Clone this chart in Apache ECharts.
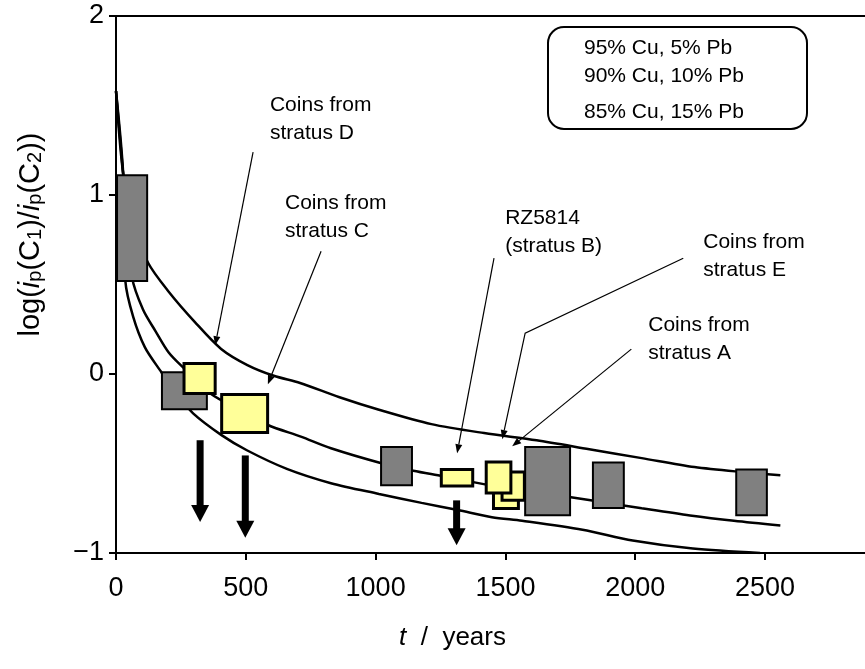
<!DOCTYPE html>
<html>
<head>
<meta charset="utf-8">
<script src="https://cdn.jsdelivr.net/npm/echarts@6/dist/echarts.min.js"></script>
<style>
  html, body { margin: 0; padding: 0; background: #fff; }
  #chart { width: 865px; height: 669px; }
</style>
</head>
<body>
<div id="chart"></div>
<script>
// Model curves: log ratio of peak currents vs. age for three Cu/Pb alloys
const curveNames = ['95% Cu, 5% Pb', '90% Cu, 10% Pb', '85% Cu, 15% Pb'];

const t95 = [0, 25, 61, 124, 203, 304, 405, 506, 608, 709, 861, 1013, 1215, 1418, 1620, 1823, 2025, 2228, 2430, 2559];
const y95 = [1.58, 1.15, 0.85, 0.62, 0.46, 0.29, 0.14, 0.05, -0.01, -0.05, -0.13, -0.20, -0.28, -0.33, -0.37, -0.42, -0.47, -0.52, -0.55, -0.566];

const t90 = [0, 28, 62, 104, 152, 203, 263, 365, 476, 585, 712, 828, 1026, 1145, 1258, 1436, 1645, 1847, 2025, 2211, 2380, 2559];
const y90 = [1.58, 1.11, 0.54, 0.36, 0.24, 0.12, 0.03, -0.11, -0.20, -0.285, -0.35, -0.415, -0.50, -0.54, -0.57, -0.62, -0.665, -0.71, -0.75, -0.79, -0.82, -0.846];

const t85 = [0, 28, 36, 66, 111, 170, 233, 297, 405, 504, 658, 828, 1013, 1177, 1317, 1448, 1564, 1797, 1990, 2222, 2481];
const y85 = [1.58, 1.11, 0.52, 0.32, 0.15, 0.02, -0.11, -0.22, -0.34, -0.426, -0.53, -0.61, -0.67, -0.72, -0.76, -0.80, -0.82, -0.87, -0.93, -0.975, -1.0];

// Measured coins: age range [from, to] and log ratio range [high, low]
const grayFrom = [4, 177, 1021, 1576, 1837, 2389];
const grayTo   = [120, 350, 1140, 1749, 1956, 2507];
const grayHigh = [1.111, 0.01, -0.408, -0.408, -0.495, -0.534];
const grayLow  = [0.519, -0.197, -0.621, -0.789, -0.749, -0.789];

const yellowFrom = [262, 407, 1253, 1454, 1487, 1426];
const yellowTo   = [382, 584, 1374, 1550, 1573, 1521];
const yellowHigh = [0.059, -0.115, -0.534, -0.659, -0.547, -0.491];
const yellowLow  = [-0.109, -0.327, -0.626, -0.752, -0.705, -0.665];

// Upper-limit arrows: age, start value, tip value
const limitT = [324, 498, 1312];
const limitFrom = [-0.37, -0.455, -0.706];
const limitTip = [-0.827, -0.915, -0.957];

const xTicks = [0, 500, 1000, 1500, 2000, 2500];
const yTicks = [-1, 0, 1, 2];

// Callouts: text, text anchor (t, value), leader path ending at arrow tip
const callouts = [
  { text: 'Coins from\nstratus D', at: [593, 1.424], path: [[528, 1.24], [382, 0.161]] },
  { text: 'Coins from\nstratus C', at: [651, 0.876], path: [[790, 0.686], [585, -0.057]] },
  { text: 'RZ5814\n(stratus B)', at: [1499, 0.79], path: [[1456, 0.647], [1314, -0.443]] },
  { text: 'Coins from\nstratus E', at: [2262, 0.658], path: [[2185, 0.647], [1576, 0.228], [1488, -0.364]] },
  { text: 'Coins from\nstratus A', at: [2050, 0.195], path: [[1985, 0.139], [1526, -0.404]] }
];

const FONT = '"Liberation Sans", Arial, sans-serif';

function zip(a, b) { return a.map((v, i) => [v, b[i]]); }
function boxes(f, t, h, l) { return f.map((v, i) => [v, t[i], h[i], l[i]]); }

function lineSeries(name, t, y) {
  return {
    name: name, type: 'line', data: zip(t, y), smooth: 0.3,
    showSymbol: false, z: 2,
    lineStyle: { color: '#000', width: 2.5 }
  };
}

function boxSeries(data, fill, border) {
  return {
    type: 'custom', z: 3, clip: false,
    encode: { x: [0, 1], y: [2, 3] },
    data: data,
    renderItem: function (params, api) {
      const p0 = api.coord([api.value(0), api.value(2)]);
      const p1 = api.coord([api.value(1), api.value(3)]);
      return {
        type: 'rect',
        shape: { x: p0[0], y: p0[1], width: p1[0] - p0[0], height: p1[1] - p0[1] },
        style: { fill: fill, stroke: '#000', lineWidth: border }
      };
    }
  };
}

const X_MAX = 2885;

const chart = echarts.init(document.getElementById('chart'));
chart.setOption({
  animation: false,
  backgroundColor: '#fff',
  textStyle: { fontFamily: FONT, color: '#000' },
  grid: { left: 116, right: 0, top: 16, bottom: 116 },
  xAxis: [{
    type: 'value', min: xTicks[0], max: X_MAX, interval: 500,
    axisLine: { onZero: false, lineStyle: { color: '#000', width: 2 } },
    axisTick: { length: 7, lineStyle: { color: '#000', width: 2 } },
    splitLine: { show: false },
    axisLabel: {
      fontSize: 27, color: '#000', margin: 22, fontFamily: FONT, showMaxLabel: false,
      formatter: v => String(v)
    },
    name: '{i|t}  /  years', nameLocation: 'middle', nameGap: 72,
    nameTextStyle: {
      fontSize: 26, color: '#000', fontFamily: FONT, padding: [0, 76, 0, 0],
      rich: { i: { fontStyle: 'italic', fontSize: 26, fontFamily: FONT } }
    }
  }, {
    type: 'value', position: 'top', min: 0, max: X_MAX,
    axisLine: { show: true, onZero: false, lineStyle: { color: '#000', width: 2 } },
    axisTick: { show: false }, axisLabel: { show: false }, splitLine: { show: false }
  }],
  yAxis: {
    type: 'value', min: yTicks[0], max: yTicks[yTicks.length - 1], interval: 1,
    axisLine: { show: true, onZero: false, lineStyle: { color: '#000', width: 2 } },
    axisTick: { show: true, length: 7, lineStyle: { color: '#000', width: 2 } },
    splitLine: { show: false },
    axisLabel: {
      fontSize: 27, color: '#000', margin: 12, fontFamily: FONT,
      formatter: v => String(v).replace('-', '\u2212')
    },
    name: 'log({i|i}{s|p}(C{s|1})/{i|i}{s|p}(C{s|2}))',
    nameLocation: 'middle', nameRotate: 90, nameGap: 71,
    nameTextStyle: {
      fontSize: 29, color: '#000', fontFamily: FONT, padding: [0, 0, 0, 100],
      rich: {
        i: { fontStyle: 'italic', fontSize: 29, fontFamily: FONT },
        s: { fontSize: 20, fontFamily: FONT, verticalAlign: 'bottom', lineHeight: 10 }
      }
    }
  },
  series: [
    lineSeries(curveNames[0], t95, y95),
    lineSeries(curveNames[1], t90, y90),
    lineSeries(curveNames[2], t85, y85),
    boxSeries(boxes(grayFrom, grayTo, grayHigh, grayLow), '#808080', 2),
    boxSeries(boxes(yellowFrom, yellowTo, yellowHigh, yellowLow), '#ffff99', 3),
    {
      // thick downward arrows marking upper limits
      type: 'custom', z: 4, clip: false,
      encode: { x: 0, y: [1, 2] },
      data: limitT.map((t, i) => [t, limitFrom[i], limitTip[i]]),
      renderItem: function (params, api) {
        const a = api.coord([api.value(0), api.value(1)]);
        const b = api.coord([api.value(0), api.value(2)]);
        const head = 17, half = 9, shaft = 3.5;
        return {
          type: 'group',
          children: [
            { type: 'rect', shape: { x: a[0] - shaft, y: a[1], width: shaft * 2, height: b[1] - a[1] - head + 1 }, style: { fill: '#000' } },
            { type: 'polygon', shape: { points: [[b[0] - half, b[1] - head], [b[0] + half, b[1] - head], [b[0], b[1]]] }, style: { fill: '#000' } }
          ]
        };
      }
    },
    {
      // callout texts with thin leader arrows
      type: 'custom', z: 5, clip: false,
      encode: { x: 0, y: 1 },
      data: callouts.map(c => c.at),
      renderItem: function (params, api) {
        const c = callouts[params.dataIndex];
        const pts = c.path.map(p => api.coord(p));
        const n = pts.length;
        const tip = pts[n - 1], prev = pts[n - 2];
        const ang = Math.atan2(tip[1] - prev[1], tip[0] - prev[0]);
        const L = 9, W = 3.5;
        const bx = tip[0] - L * Math.cos(ang), by = tip[1] - L * Math.sin(ang);
        const nx = -Math.sin(ang), ny = Math.cos(ang);
        const anchor = api.coord(c.at);
        const linePts = pts.slice(0, n - 1).concat([[bx, by]]);
        return {
          type: 'group',
          children: [
            { type: 'polyline', shape: { points: linePts }, style: { stroke: '#000', lineWidth: 1.2, fill: null } },
            { type: 'polygon', shape: { points: [tip, [bx + nx * W, by + ny * W], [bx - nx * W, by - ny * W]] }, style: { fill: '#000' } },
            { type: 'text', x: anchor[0], y: anchor[1], style: { text: c.text, font: '21px ' + FONT, fill: '#000', align: 'left', verticalAlign: 'middle', lineHeight: 28 } }
          ]
        };
      }
    }
  ],
  graphic: [{
    type: 'group', left: 547, top: 26,
    children: [
      { type: 'rect', shape: { x: 0, y: 0, width: 259, height: 102, r: 16 }, style: { fill: '#fff', stroke: '#000', lineWidth: 2 } },
      { type: 'text', x: 36, y: 21, style: { text: curveNames[0], font: '21px ' + FONT, fill: '#000', verticalAlign: 'middle' } },
      { type: 'text', x: 36, y: 49, style: { text: curveNames[1], font: '21px ' + FONT, fill: '#000', verticalAlign: 'middle' } },
      { type: 'text', x: 36, y: 85, style: { text: curveNames[2], font: '21px ' + FONT, fill: '#000', verticalAlign: 'middle' } }
    ]
  }]
});
</script>
</body>
</html>
